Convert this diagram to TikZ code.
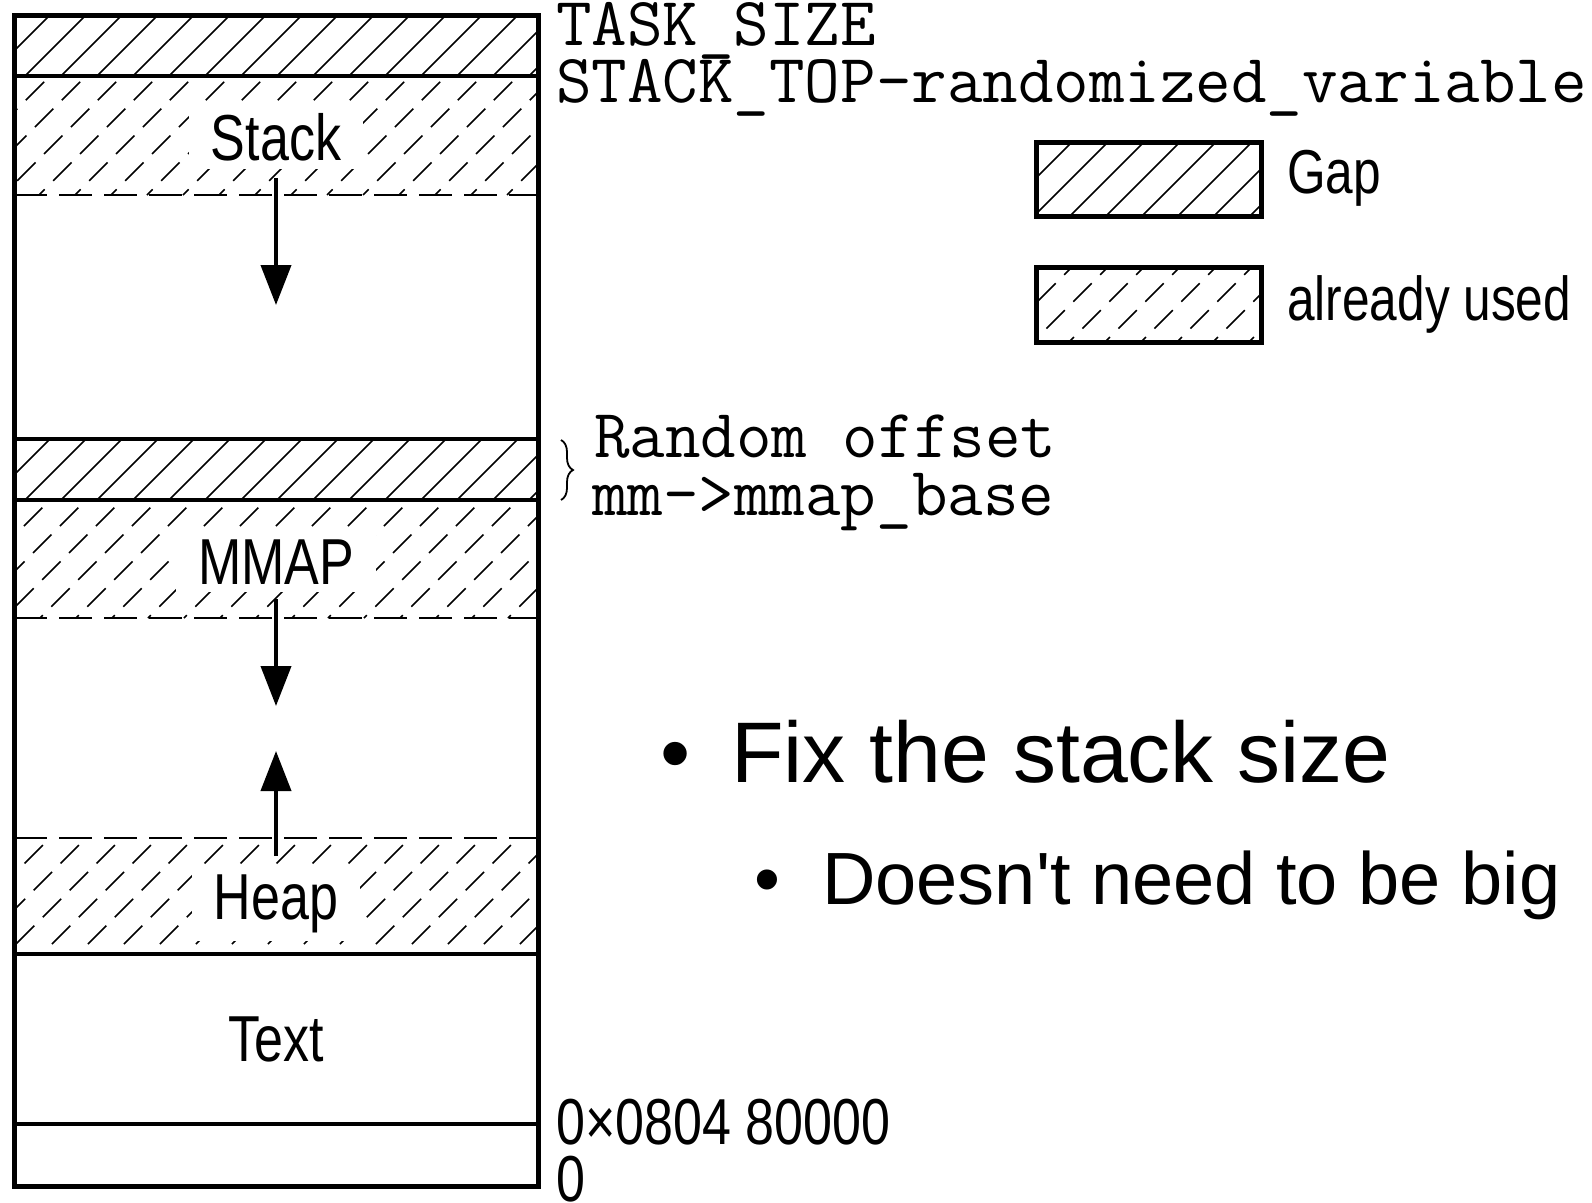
\documentclass[tikz,border=0pt]{standalone}
\usepackage{fontspec}
\setmainfont{Liberation Sans}
\newfontfamily\notefont[Ligatures=TeXOff]{Liberation Sans}
\newfontfamily\condfont[FakeStretch=0.8]{Liberation Sans}
\usetikzlibrary{arrows.meta,decorations.pathreplacing}

\tikzset{
  frame/.style={line width=5pt},
  divider/.style={line width=4pt},
  usedline/.style={line width=2pt, dash pattern=on 33pt off 12pt},
  hatchgap/.style={line width=1.6pt},
  hatchused/.style={line width=1.6pt, dash pattern=on 26pt off 12pt},
  region/.style={font=\condfont\fontsize{65}{70}\selectfont, fill=white, inner xsep=22pt, inner ysep=8pt, anchor=base},
  addr/.style={font=\ttfamily\fontsize{69}{70}\selectfont, anchor=base west, inner sep=0pt},
  legendtxt/.style={font=\condfont\fontsize{62}{70}\selectfont, anchor=base west, inner sep=0pt},
  bigaddr/.style={font=\condfont\fontsize{65}{70}\selectfont, anchor=base west, inner sep=0pt},
  growarrow/.style={line width=4pt, -{Triangle[length=40pt,width=30pt]}},
  bulletone/.style={font=\notefont\fontsize{86}{90}\selectfont, anchor=base west, inner sep=0pt},
  bullettwo/.style={font=\notefont\fontsize{74}{80}\selectfont, anchor=base west, inner sep=0pt},
}

% diagonal hatching of a rectangle: x1 y1 x2 y2 style
\newcommand\hatchrect[5]{%
  \begin{scope}
    \clip (#1,#2) rectangle (#3,#4);
    \pgfmathsetmacro\hfirst{#1+#2}
    \pgfmathsetmacro\hsecond{#1+#2+36}
    \pgfmathsetmacro\hlast{#3+#4}
    \foreach \c in {\hfirst,\hsecond,...,\hlast}{
      \pgfmathsetmacro\ph{mod(mod(\c,36)*13,36)}
      \draw[#5, dash phase=\ph pt] ({\c-(#4)},#4) -- ({\c-(#2)},#2);
    }
  \end{scope}}

\begin{document}
\begin{tikzpicture}[x=1pt,y=-1pt]
\useasboundingbox (0,0) rectangle (1592,1202);

% hatched bands of the address space
\hatchrect{14}{15}{538}{76}{hatchgap}
\hatchrect{14}{76}{538}{195}{hatchused}
\hatchrect{14}{439}{538}{500}{hatchgap}
\hatchrect{14}{500}{538}{618}{hatchused}
\hatchrect{14}{838}{538}{954}{hatchused}

% region labels
\node[region] (stack) at (276,160) {Stack};
\node[region] (mmap) at (276,584) {MMAP};
\node[region] (heap) at (276,919) {Heap};
\node[region, fill=none] (text) at (276,1061) {Text};

% solid and dashed boundaries
\draw[divider] (14,76) -- (538,76);
\draw[usedline] (14,195) -- (538,195);
\draw[divider] (14,439) -- (538,439);
\draw[divider] (14,500) -- (538,500);
\draw[usedline] (14,618) -- (538,618);
\draw[usedline] (14,838) -- (538,838);
\draw[divider] (14,954) -- (538,954);
\draw[divider] (14,1124) -- (538,1124);
\draw[frame] (14,15) rectangle (538,1186);

% growth directions
\coordinate (stackTail) at (276,178);
\coordinate (stackHead) at (276,305);
\coordinate (mmapTail) at (276,599);
\coordinate (mmapHead) at (276,706);
\coordinate (heapTail) at (276,856);
\coordinate (heapHead) at (276,751);
\draw[growarrow] (stackTail) -- (stackHead);
\draw[growarrow] (mmapTail) -- (mmapHead);
\draw[growarrow] (heapTail) -- (heapHead);

% address labels
\node[addr] (tasksize) at (556,45) {TASK\_SIZE};
\node[addr] (stacktop) at (556,102) {STACK\_TOP-randomized\_variable};
\node[addr] (randoff) at (594,457) {Random offset};
\node[addr] (mmapbase) at (592,515) {mm->mmap\_base};
\coordinate (braceTop) at (561,440);
\coordinate (braceBot) at (561,500);
\draw[decorate, decoration={brace, amplitude=12pt}, line width=1.8pt] (braceTop) -- (braceBot);
\node[bigaddr] (textbase) at (556,1144) {0×0804 80000};
\node[bigaddr] (zero) at (556,1201) {0};

% legend
\hatchrect{1036}{142}{1261}{216}{hatchgap}
\hatchrect{1036}{267}{1261}{342}{hatchused}
\draw[frame] (1036,142) rectangle (1261,216);
\draw[frame] (1036,267) rectangle (1261,342);
\node[legendtxt] (gaplbl) at (1287,193) {Gap};
\node[legendtxt] (usedlbl) at (1287,320) {already used};

% notes
\node[bulletone] (dotone) at (660,782) {•};
\node[bulletone] (noteone) at (731,782) {Fix the stack size};
\node[bullettwo] (dottwo) at (754,904) {•};
\node[bullettwo] (notetwo) at (822,904) {Doesn't need to be big};
\end{tikzpicture}
\end{document}
